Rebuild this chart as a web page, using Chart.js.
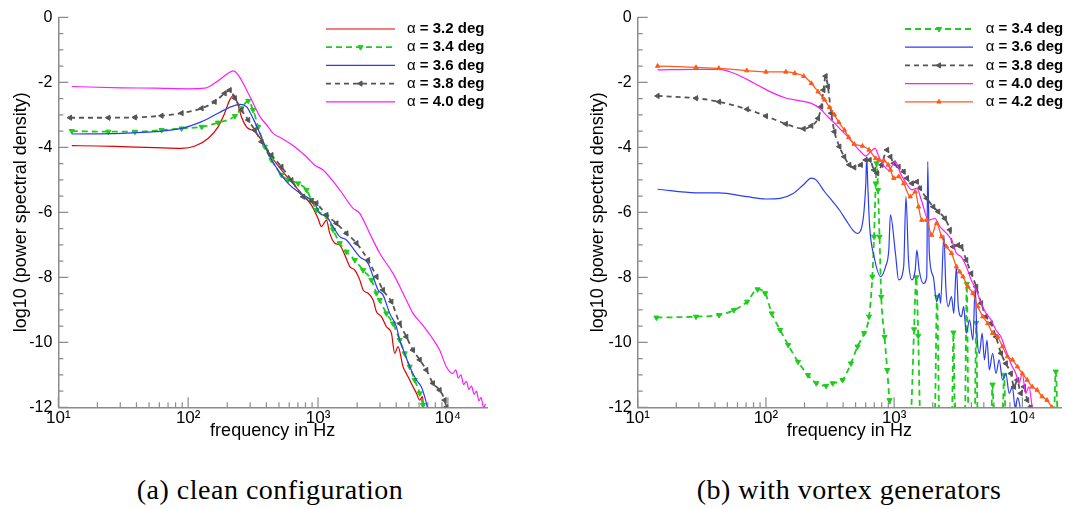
<!DOCTYPE html>
<html><head><meta charset="utf-8">
<script src="https://cdn.jsdelivr.net/npm/chart.js@4.4.1/dist/chart.umd.min.js"></script>
<style>
html,body{margin:0;padding:0;background:#fff;width:1066px;height:509px;overflow:hidden;position:relative}
canvas{position:absolute;top:0}
#ca{left:0}
#cb{left:533px}
.cap{position:absolute;font-family:"Liberation Serif",serif;font-size:28px;letter-spacing:0.5px;line-height:28px;white-space:nowrap;color:#000;transform:translateX(-50%)}
</style></head><body>
<canvas id="ca" width="533" height="460"></canvas>
<canvas id="cb" width="533" height="460"></canvas>
<div class="cap" style="left:270px;top:476px">(a) clean configuration</div>
<div class="cap" style="left:849px;top:476px">(b) with vortex generators</div>
<script>
// ---------- axis ticks ----------
const xDecades = [10, 100, 1000, 10000];
const xDecadeLabels = ['10\u00B9', '10\u00B2', '10\u00B3', '10\u2074'];
const xMultipliers = [1, 2, 3, 4, 5, 6, 7, 8, 9];
const yLabelValues = [0, -2, -4, -6, -8, -10, -12];
const yMinorStep = 0.5;

// ---------- (a) clean configuration ----------
const alphasA = ['3.2', '3.4', '3.6', '3.8', '4.0'];
const freqA32 = [12.7,20,30.7,55.5,89,113,143,170,191,209,226,240,257,281,326,367,438,523,624,745,889,1000,1062,1161,1231,1345,1469,1607,1755,1919,2095,2223,2430,2656,2818,3078,3361,3673,3894,4131,4512,4786,5080,5390,5720,6070,6360,6500];
const psdA32 = [-3.95,-3.96,-3.98,-4.01,-4.03,-3.96,-3.72,-3.37,-2.95,-2.54,-2.39,-2.65,-3.06,-3.37,-3.52,-3.78,-4.29,-4.70,-5.06,-5.42,-5.78,-6.19,-6.44,-6.24,-6.65,-6.95,-7.01,-7.31,-7.67,-7.78,-8.08,-8.39,-8.49,-8.70,-9.06,-9.21,-9.52,-9.72,-10.34,-10.13,-10.75,-10.96,-11.16,-11.37,-11.57,-11.78,-11.67,-12.0];
const freqA34 = [12.7,24.3,38.9,62.4,89,127,170,229,257,290,316,346,389,438,523,588,703,815,889,972,1161,1306,1469,1655,1919,2223,2576,2818,2986,3361,3777,4254,4645,5080,5550,6070,6430];
const psdA34 = [-3.50,-3.52,-3.52,-3.47,-3.42,-3.37,-3.24,-3.04,-2.80,-2.57,-2.85,-3.37,-3.98,-4.39,-4.85,-5.00,-5.11,-5.31,-5.62,-5.93,-6.13,-6.54,-6.95,-7.21,-7.47,-7.78,-8.08,-8.49,-8.70,-9.11,-9.42,-9.93,-10.34,-10.75,-11.16,-11.57,-11.93];
const freqA36 = [12.7,30.7,55.5,89,127,170,215,250,281,316,356,413,492,588,702,837,936,1030,1161,1306,1469,1655,1862,2095,2430,2656,2900,3162,3565,4010,4254,4645,5080,5720,6240,6620,6950];
const psdA36 = [-3.59,-3.57,-3.52,-3.42,-3.21,-2.95,-2.75,-2.68,-2.75,-3.11,-3.57,-4.19,-4.70,-5.11,-5.37,-5.55,-5.70,-6.03,-6.13,-6.44,-6.75,-6.85,-7.11,-7.37,-7.57,-7.98,-8.39,-8.54,-9.11,-9.52,-9.93,-10.34,-10.75,-11.16,-11.37,-11.67,-12.0];
const freqA38 = [12.3,24.3,38.9,62.4,89,127,160,191,209,229,257,290,326,367,438,523,624,767,889,972,1161,1387,1655,1977,2430,2818,3162,3673,4254,4786,5383,6070,6820,7670,8630,9440,9720];
const psdA38 = [-3.09,-3.09,-3.08,-3.03,-2.95,-2.80,-2.60,-2.34,-2.24,-2.49,-2.85,-3.16,-3.47,-3.83,-4.24,-4.60,-5.01,-5.52,-5.65,-5.72,-6.08,-6.34,-6.65,-6.95,-7.47,-7.98,-8.39,-8.75,-9.42,-9.83,-10.24,-10.54,-10.85,-11.26,-11.47,-11.78,-12.0];
const freqA40 = [12.7,30.7,56,100,134,170,203,222,243,273,326,356,413,451,523,607,661,813,943,1093,1469,1862,2094,2500,2986,3777,4786,5383,6240,7450,8630,9720,10900,11500,12000,12600,13200,13900,14500,15200,15900,16600,17300,18000,18800,19500];
const psdA40 = [-2.13,-2.17,-2.18,-2.20,-2.18,-1.95,-1.72,-1.65,-1.78,-2.13,-2.75,-3.05,-3.37,-3.57,-3.72,-3.88,-3.98,-4.29,-4.55,-4.70,-5.31,-5.88,-6.03,-6.65,-7.26,-7.88,-8.70,-9.11,-9.42,-9.83,-10.24,-10.75,-10.96,-10.85,-11.10,-11.00,-11.30,-11.20,-11.45,-11.35,-11.60,-11.50,-11.80,-11.70,-12.00,-11.90];

// ---------- (b) with vortex generators ----------
const alphasB = ['3.4', '3.6', '3.8', '4.0', '4.2'];
const freqB34 = [14,28.5,43.1,56.2,71.3,86.1,98.6,111,129,149,178,213,247,295,332,396,460,518,583,637,676,697,718,730,748,769,793,841,883,920,964,
  1340,1430,1486,1540,1600, 2070,2160,2250, 2820,2900,2980, 3560,3680,3800, 4250,4360,4480, 5700,5850,6000, 7000,7200,7400, 17600,18200,18800];
const psdB34 = [-9.24,-9.21,-9.16,-9.01,-8.75,-8.37,-8.49,-9.11,-9.62,-10.08,-10.6,-11.01,-11.26,-11.34,-11.26,-11.16,-10.65,-10.13,-9.72,-9.21,-7.98,-6.75,-5.11,-4.49,-5.31,-6.75,-8.60,-9.83,-10.85,-11.78,-12.3,
  -12.3,-9.6,-8.0,-9.8,-12.3, -12.3,-8.6,-12.3, -12.3,-9.7,-12.3, -12.3,-8.2,-12.3, -12.3,-9.4,-12.3, -12.3,-11.3,-12.3, -12.3,-11.0,-12.3, -12.3,-10.9,-12.3];
const freqB36 = [14.3,28.5,43.1,71.3,100,129,163,195,226,247,286,332,374,421,474,518,560,583,601,611,622,644,697,783,857,908,935,1023,1084,1186,1236,1294,1374,1459,1503,1567,1690,1795,1828,1879,2018,2143,2249,2301,2443,2529,2636,2799,2917,3055,3162,3342,3483,3648,3873,4111,4285,4416,4624,4853,5058,5297,5521,5861,6223,6592,6998,7430,7889,8356,8770,9200,9700];
const psdB36 = [-5.29,-5.40,-5.40,-5.52,-5.59,-5.57,-5.42,-5.16,-4.95,-5.01,-5.36,-5.67,-5.93,-6.24,-6.54,-6.65,-6.44,-5.93,-5.11,-4.29,-5.11,-6.44,-7.36,-7.98,-7.67,-7.16,-6.08,-7.26,-8.08,-7.67,-5.52,-7.47,-8.08,-7.78,-7.16,-7.78,-8.19,-7.98,-4.44,-7.26,-7.98,-8.75,-8.49,-8.80,-6.70,-8.29,-8.90,-8.59,-9.11,-7.67,-8.90,-9.21,-8.90,-9.72,-9.31,-9.93,-8.29,-9.72,-10.34,-9.72,-10.54,-9.93,-10.85,-10.34,-10.96,-10.54,-11.16,-10.96,-11.57,-11.37,-12.0,-11.7,-12.1];
const freqB38 = [14.3,28.5,43.1,71.3,100,143,197,226,255,270,281,292,304,323,342,374,408,447,489,550,600,644,697,738,798,881,935,993,1084,1186,1259,1374,1503,1592,1795,2018,2208,2483,2716,2884,3148,3342,3648,3990,4365,4764,5212,5689,6223,6808,7430,8128,8610,9141,9705,10280,10910,11590];
const psdB38 = [-2.42,-2.49,-2.60,-2.83,-3.04,-3.28,-3.43,-3.34,-3.11,-2.75,-2.24,-1.81,-2.13,-2.95,-3.52,-3.98,-4.29,-4.54,-4.62,-4.54,-4.39,-4.39,-4.70,-4.80,-4.54,-4.08,-4.29,-4.49,-4.60,-4.75,-4.95,-5.11,-5.06,-5.26,-5.57,-5.83,-5.98,-6.19,-6.54,-7.06,-7.01,-7.06,-7.47,-7.88,-8.29,-8.80,-9.21,-9.42,-9.83,-10.34,-10.65,-10.96,-11.37,-11.16,-11.57,-11.37,-11.78,-12.0];
const freqB40 = [14.3,28.5,43.1,56.2,71.3,90.4,115,145,184,226,262,304,353,397,447,503,566,600,656,709,760,807,908,1023,1117,1222,1375,1503,1642,1849,2080,2275,2560,2800,3057,3342,3652,3990,4360,4770,5210,5690,6220,6800,7430,8120,8880,9420,9990,10600,11250,11930];
const psdB40 = [-1.62,-1.60,-1.60,-1.72,-1.91,-2.13,-2.34,-2.49,-2.57,-2.65,-2.80,-3.06,-3.31,-3.52,-3.72,-3.98,-4.19,-4.27,-4.13,-4.03,-4.29,-4.49,-4.70,-4.44,-4.80,-5.06,-5.31,-5.26,-5.67,-6.24,-6.19,-6.44,-6.65,-6.85,-7.26,-7.37,-7.67,-8.08,-8.39,-8.80,-9.11,-9.31,-9.62,-9.83,-10.24,-10.65,-10.96,-11.26,-10.96,-11.57,-11.37,-12.0];
const freqB42 = [14.3,28.5,43,71,100,143,168,197,226,255,287,313,342,370,409,442,488,566,637,718,761,832,898,936,993,1085,1186,1334,1459,1549,1642,1795,1960,2143,2344,2560,2800,3057,3245,3443,3760,4111,4490,4910,5370,5860,6410,7000,7650,8360,9140,9990,10900,11930,13030,14240,15560,17000];
const psdB42 = [-1.50,-1.54,-1.57,-1.64,-1.68,-1.68,-1.72,-1.81,-2.03,-2.29,-2.54,-2.77,-3.00,-3.23,-3.47,-3.69,-3.90,-3.96,-4.08,-4.34,-4.39,-4.41,-4.54,-4.70,-4.95,-4.90,-5.11,-5.52,-5.37,-5.83,-6.24,-6.24,-6.70,-6.34,-6.75,-7.06,-7.26,-7.67,-7.83,-7.98,-8.29,-8.49,-8.90,-9.21,-9.42,-9.72,-9.83,-10.13,-10.44,-10.54,-10.75,-10.96,-11.16,-11.37,-11.47,-11.67,-11.78,-12.0];

// ---------- styling ----------
const FONT = '"Liberation Sans", Arial, sans-serif';
const AXIS = '#8c8c8c';
const C = { red:'#e00000', green:'#1ecc1e', blue:'#2b3df2', gray:'#555555', pink:'#ff1aff', orange:'#ff5a1a' };
Chart.defaults.font.family = FONT;
Chart.defaults.color = '#000';

function pts(f, v) { return f.map((x, i) => ({ x: x, y: v[i] })); }

const xTickValues = [];
xDecades.forEach(d => xMultipliers.forEach(m => xTickValues.push(d * m)));
const X_MAX = 20000;
const xTicksAll = xTickValues.filter(v => v < X_MAX).concat([X_MAX]);
const yTickValues = [];
for (let v = -12; v <= 0.0001; v += yMinorStep) yTickValues.push(Math.round(v * 10) / 10);

function solid(label, color, f, v, idx) {
  return { label, data: pts(f, v), borderColor: color, backgroundColor: color, borderWidth: 1.2,
    pointRadius: 0, order: -idx };
}
function marked(label, color, f, v, idx, dash, rot, r) {
  return { label, data: pts(f, v), borderColor: color, backgroundColor: color,
    borderWidth: dash ? 1.8 : 1.3, borderDash: dash || [],
    pointRadius: r, pointStyle: 'triangle', pointRotation: rot,
    pointBackgroundColor: color, pointBorderColor: color, pointBorderWidth: 1, order: -idx };
}

const innerTicks = {
  id: 'innerTicks',
  beforeDatasetsDraw(chart) {
    const { ctx, chartArea: ca, scales: { x, y } } = chart;
    ctx.save();
    ctx.strokeStyle = AXIS; ctx.lineWidth = 1.2;
    ctx.beginPath();
    x.ticks.forEach(t => {
      if (t.value === X_MAX) return;
      const p = x.getPixelForValue(t.value);
      const L = xDecades.includes(t.value) ? 10 : 5;
      ctx.moveTo(p, ca.bottom); ctx.lineTo(p, ca.bottom - L);
    });
    y.ticks.forEach(t => {
      const p = y.getPixelForValue(t.value);
      const L = yLabelValues.includes(t.value) ? 10 : 5;
      ctx.moveTo(ca.left, p); ctx.lineTo(ca.left + L, p);
    });
    ctx.stroke();
    ctx.restore();
  }
};

const insetLegend = {
  id: 'insetLegend',
  afterDraw(chart, args, o) {
    const ctx = chart.ctx;
    chart.data.datasets.forEach((ds, i) => {
      const y = o.y0 + i * o.dy;
      ctx.save();
      ctx.strokeStyle = ds.borderColor; ctx.lineWidth = ds.borderWidth;
      ctx.setLineDash(ds.borderDash || []);
      ctx.beginPath(); ctx.moveTo(o.x0, y); ctx.lineTo(o.x1, y); ctx.stroke();
      ctx.setLineDash([]);
      if (ds.pointRadius > 0) {
        ctx.fillStyle = ds.pointBackgroundColor; ctx.strokeStyle = ds.pointBorderColor; ctx.lineWidth = 1;
        Chart.helpers.drawPoint(ctx, { pointStyle: ds.pointStyle, rotation: ds.pointRotation,
          radius: ds.pointRadius, borderWidth: 1 }, (o.x0 + o.x1) / 2, y);
      }
      ctx.fillStyle = '#000'; ctx.textBaseline = 'middle'; ctx.textAlign = 'left';
      ctx.font = '15px ' + FONT;
      ctx.fillText('\u03B1', o.tx, y);
      const w = ctx.measureText('\u03B1 ').width;
      ctx.font = 'bold 15px ' + FONT;
      ctx.fillText('= ' + ds.label + ' deg', o.tx + w, y);
      ctx.restore();
    });
  }
};

function makeChart(id, datasets, yWidth, padRight, yTitlePad, legend) {
  return new Chart(document.getElementById(id), {
    type: 'line',
    data: { datasets },
    options: {
      responsive: false, animation: false, events: [],
      parsing: false, normalized: true,
      layout: { padding: { left: 0, top: 17.3, right: padRight, bottom: 0 } },
      elements: { line: { cubicInterpolationMode: 'monotone', fill: false } },
      datasets: { line: { clip: 0 } },
      plugins: { legend: { display: false }, tooltip: { enabled: false }, insetLegend: legend },
      scales: {
        x: {
          type: 'logarithmic', min: 10, max: X_MAX,
          afterBuildTicks: s => { s.ticks = xTicksAll.map(v => ({ value: v })); },
          afterFit: s => { s.height = 460 - 407.3; },
          grid: { display: false, drawTicks: false },
          border: { display: true, color: AXIS, width: 1.5 },
          ticks: { autoSkip: false, maxRotation: 0, padding: 1, font: { size: 17 }, color: '#000',
            callback: v => { const i = xDecades.indexOf(v); return i >= 0 ? xDecadeLabels[i] : ''; } },
          title: { display: true, text: 'frequency in Hz', font: { size: 18 }, color: '#000',
            padding: { top: 0, bottom: 17.7 } }
        },
        y: {
          min: -12, max: 0,
          afterBuildTicks: s => { s.ticks = yTickValues.map(v => ({ value: v })); },
          afterFit: s => { s.width = yWidth; },
          grid: { display: false, drawTicks: false },
          border: { display: true, color: AXIS, width: 1.5 },
          ticks: { autoSkip: false, padding: 6, font: { size: 16 }, color: '#000',
            callback: v => yLabelValues.includes(v) ? String(v) : '' },
          title: { display: true, text: 'log10 (power spectral density)', font: { size: 18 }, color: '#000',
            padding: { top: yTitlePad, bottom: 0 } }
        }
      }
    },
    plugins: [innerTicks, insetLegend]
  });
}

makeChart('ca', [
  solid(alphasA[0], C.red, freqA32, psdA32, 0),
  marked(alphasA[1], C.green, freqA34, psdA34, 1, [6, 4], 180, 3),
  solid(alphasA[2], C.blue, freqA36, psdA36, 2),
  marked(alphasA[3], C.gray, freqA38, psdA38, 3, [5, 4], 270, 3),
  solid(alphasA[4], C.pink, freqA40, psdA40, 4)
], 58.3, 46, 10.2, { x0: 326, x1: 395, tx: 407, y0: 29, dy: 18.2 });

makeChart('cb', [
  marked(alphasB[0], C.green, freqB34, psdB34, 0, [6, 4], 180, 3),
  solid(alphasB[1], C.blue, freqB36, psdB36, 1),
  marked(alphasB[2], C.gray, freqB38, psdB38, 2, [5, 4], 270, 3),
  solid(alphasB[3], C.pink, freqB40, psdB40, 3),
  marked(alphasB[4], C.orange, freqB42, psdB42, 4, null, 0, 2.5)
], 104.7, 0, 54.7, { x0: 372, x1: 440, tx: 452.7, y0: 29, dy: 18.2 });
</script>
</body></html>
